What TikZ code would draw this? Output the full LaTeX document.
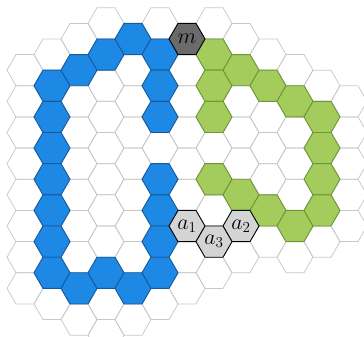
\documentclass[tikz,border=0pt]{standalone}
\usepackage{amsmath}
\usepackage{amssymb}
\usepackage{xcolor}
\usetikzlibrary{shapes.geometric}

\definecolor{gridgray}{RGB}{200,200,200}
\definecolor{pathblue}{RGB}{30,136,229}
\definecolor{pathblueedge}{RGB}{20,90,160}
\definecolor{pathgreen}{RGB}{163,204,92}
\definecolor{pathgreenedge}{RGB}{110,150,55}

\tikzset{
  hexcell/.style={regular polygon, regular polygon sides=6, minimum size=1cm,
    inner sep=0pt, outer sep=0pt, draw=gridgray, line width=0.6pt},
  bluecell/.style={hexcell, fill=pathblue, draw=pathblueedge, line width=0.7pt},
  greencell/.style={hexcell, fill=pathgreen, draw=pathgreenedge, line width=0.7pt},
  markcell/.style={hexcell, fill=black!58, draw=black, line width=0.7pt, font=\LARGE},
  anchorcell/.style={hexcell, fill=black!17, draw=black, line width=0.7pt, font=\LARGE}
}

\begin{document}
\begin{tikzpicture}[x=0.5cm,y=0.5cm]
  \useasboundingbox (0,0) rectangle (20.222,-18.722);

  % grid of hexagons, column by column
  \foreach \i/\jlo/\jhi in {0/4/18,1/3/19,2/2/20,3/1/21,4/2/20,5/1/19,6/2/18,
                            7/1/17,8/2/16,9/3/15,10/4/16,11/5/15,12/6/14} {
    \pgfmathtruncatemacro{\jnext}{\jlo+2}
    \foreach \j in {\jlo,\jnext,...,\jhi}
      \node[hexcell] (h-\i-\j) at ({1.389+1.5*\i},{-0.433-0.866*\j}) {};
  }

  % blue path
  \foreach \i/\j in {1/5,1/7,1/9,1/11,1/13,1/15,1/17,2/4,2/18,3/3,3/17,
                     4/2,4/18,5/3,5/5,5/7,5/11,5/13,5/15,5/17}
    \node[bluecell] (b-\i-\j) at (h-\i-\j) {};

  % green path
  \foreach \i/\j in {7/3,7/5,7/7,7/11,8/4,8/12,9/5,9/13,10/6,10/14,
                     11/7,11/9,11/11,11/13}
    \node[greencell] (g-\i-\j) at (h-\i-\j) {};

  \node[markcell] (m) at (h-6-2) {$m$};
  \node[anchorcell] (a1) at (h-6-14) {$a_1$};
  \node[anchorcell] (a2) at (h-8-14) {$a_2$};
  \node[anchorcell] (a3) at (h-7-15) {$a_3$};
\end{tikzpicture}
\end{document}
